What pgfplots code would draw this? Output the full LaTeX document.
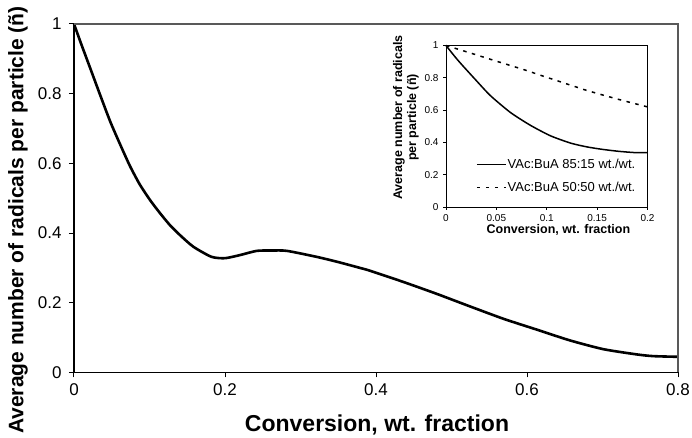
\documentclass[border=0pt]{standalone}
\usepackage{pgfplots}
\pgfplotsset{compat=1.18}
\usepackage{fontspec}
\setmainfont{Liberation Sans}

\begin{document}
\begin{tikzpicture}
% page frame
\useasboundingbox (0pt,0pt) rectangle (692pt,438pt);

% ---------- main chart ----------
\begin{axis}[
  at={(74pt,65.5pt)}, anchor=south west,
  scale only axis, width=604pt, height=348.5pt,
  xmin=0, xmax=0.8, ymin=0, ymax=1,
  axis x line*=bottom, axis y line*=left,
  axis line style={black, line width=1.1pt},
  xtick={0,0.2,0.4,0.6,0.8}, ytick={0,0.2,0.4,0.6,0.8,1},
  tick align=outside, major tick length=5pt,
  tick style={black, line width=1pt},
  /pgf/number format/assume math mode=true,
  /pgf/number format/fixed,
  tick label style={font=\fontsize{17}{20}\selectfont},
  xticklabel style={yshift=-3pt},
  yticklabel style={xshift=-4pt},
  xlabel={Conversion, wt. fraction},
  ylabel={Average number of radicals per particle (ñ)},
  xlabel style={font=\bfseries\fontsize{23}{26}\selectfont,
    at={(axis description cs:0.5017,-0.1506)}, anchor=center},
  ylabel style={font=\bfseries\fontsize{21}{24}\selectfont,
    at={(axis description cs:-0.0927,0.4376)}, anchor=center},
  clip=false,
]
\addplot[black, line width=2.6pt, smooth, tension=0.4] coordinates {
  (0,1) (0.010,0.940) (0.021,0.876) (0.034,0.800) (0.048,0.720)
  (0.061,0.655) (0.074,0.593) (0.087,0.540) (0.101,0.494) (0.114,0.457)
  (0.127,0.423) (0.140,0.395) (0.158,0.361) (0.182,0.332) (0.200,0.328)
  (0.220,0.337) (0.242,0.349) (0.262,0.350) (0.282,0.349) (0.321,0.332)
  (0.348,0.318) (0.379,0.300) (0.392,0.292) (0.436,0.260) (0.480,0.226)
  (0.524,0.190) (0.569,0.154) (0.613,0.123) (0.657,0.092) (0.701,0.067)
  (0.745,0.052) (0.767,0.047) (0.800,0.045)
};
% plot area border on the top and right
\draw[gray!70!black, line width=1.2pt]
  (rel axis cs:0,1) -- (rel axis cs:1,1) -- (rel axis cs:1,0);
\end{axis}

% ---------- inset ----------
\begin{axis}[
  at={(446pt,231pt)}, anchor=south west,
  scale only axis, width=201.5pt, height=161.5pt,
  xmin=0, xmax=0.2, ymin=0, ymax=1,
  axis line style={black, line width=0.8pt},
  xtick={0,0.05,0.1,0.15,0.2}, ytick={0,0.2,0.4,0.6,0.8,1},
  xtick pos=bottom, ytick pos=left,
  tick align=outside, major tick length=3pt,
  tick style={black, line width=0.8pt},
  /pgf/number format/assume math mode=true,
  /pgf/number format/fixed,
  tick label style={font=\fontsize{10}{12}\selectfont},
  xticklabel style={yshift=-1pt},
  yticklabel style={xshift=-1pt},
  xlabel={Conversion, wt. fraction},
  ylabel={Average number of radicals\\per particle (ñ)},
  xlabel style={font=\bfseries\fontsize{12.5}{14}\selectfont,
    at={(axis description cs:0.558,-0.142)}, anchor=center},
  ylabel style={font=\bfseries\fontsize{12.5}{14}\selectfont, align=center,
    at={(axis description cs:-0.1985,0.554)}, anchor=center},
  legend style={draw=none, fill=none, font=\fontsize{13}{15}\selectfont,
    at={(axis description cs:0.134,0.316)}, anchor=north west,
    row sep=10pt, nodes={inner sep=1pt}},
  legend cell align=left,
  legend image code/.code={\draw[#1] (0pt,0pt) -- (29pt,0pt);},
  clip=false,
]
\addplot[black, line width=1.5pt, smooth, tension=0.4] coordinates {
  (0,1) (0.007,0.945) (0.014,0.893) (0.029,0.790) (0.044,0.690)
  (0.064,0.585) (0.084,0.505) (0.104,0.440) (0.124,0.395) (0.140,0.372)
  (0.155,0.357) (0.171,0.345) (0.187,0.337) (0.200,0.336)
};
\addlegendentry{VAc:BuA 85:15 wt./wt.}
\addplot[black, line width=1.5pt, dash pattern=on 3.5pt off 5.5pt] coordinates {
  (0,1) (0.025,0.952) (0.05,0.903) (0.077,0.851) (0.1,0.803)
  (0.137,0.727) (0.15,0.703) (0.175,0.660) (0.2,0.620)
};
\addlegendentry{VAc:BuA 50:50 wt./wt.}
\end{axis}
\end{tikzpicture}
\end{document}
